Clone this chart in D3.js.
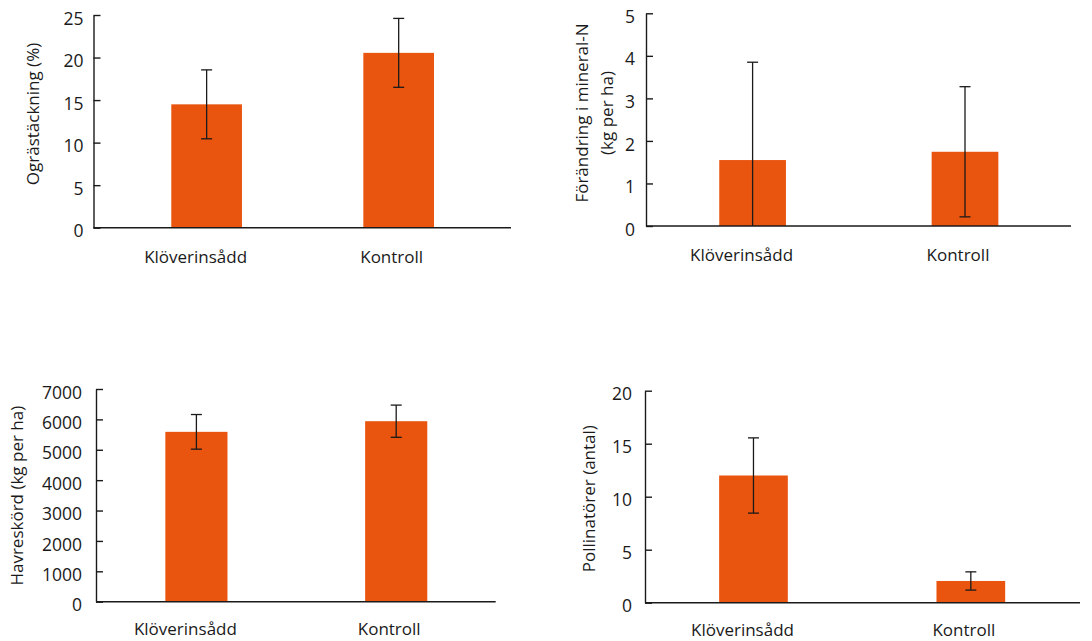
<!DOCTYPE html>
<html>
<head>
<meta charset="utf-8">
<script src="https://cdn.jsdelivr.net/npm/d3@7"></script>
<style>
  html, body { margin: 0; padding: 0; background: #fff; }
  svg { display: block; font-family: "Open Sans", "Noto Sans", sans-serif; }
</style>
</head>
<body>
<svg id="chart" width="1092" height="641"></svg>
<script>
// Treatments shared by all four panels
const categories = ["Klöverinsådd", "Kontroll"];

// Weed cover (%)
const weedMean = [14.5, 20.55];
const weedErr = [4.05, 4.05];
const weedTicks = [0, 5, 10, 15, 20, 25];

// Change in mineral N (kg per ha)
const nitrogenMean = [1.55, 1.745];
const nitrogenErr = [2.3, 1.53];
const nitrogenTicks = [0, 1, 2, 3, 4, 5];

// Oat yield (kg per ha)
const oatMean = [5590, 5940];
const oatErr = [570, 530];
const oatTicks = [0, 1000, 2000, 3000, 4000, 5000, 6000, 7000];

// Pollinators (count)
const pollMean = [12.0, 2.05];
const pollErr = [3.55, 0.86];
const pollTicks = [0, 5, 10, 15, 20];

const BAR = "#e9540f";
const INK = "#1a1a1a";

const svg = d3.select("#chart");

const panels = [
  { mean: weedMean, err: weedErr, ticks: weedTicks, max: 25,
    axisX: 93.5, axisEnd: 511, top: 15, bottom: 227.7,
    band: [110.6, 494.7], pad: 0.632, tickPad: 10, labelGap: 35,
    title: ["Ogrästäckning (%)"], titleX: [33], titleY: 114 },
  { mean: nitrogenMean, err: nitrogenErr, ticks: nitrogenTicks, max: 5,
    axisX: 646, axisEnd: 1071, top: 13.3, bottom: 226,
    band: [646.4, 1071.2], pad: 0.686, tickPad: 11, labelGap: 35,
    title: ["Förändring i mineral-N", "(kg per ha)"], titleX: [581.7, 606.7], titleY: 113 },
  { mean: oatMean, err: oatErr, ticks: oatTicks, max: 7000,
    axisX: 96, axisEnd: 495.7, top: 389, bottom: 601.7,
    band: [96.5, 496.1], pad: 0.689, tickPad: 14, labelGap: 33.5,
    title: ["Havreskörd (kg per ha)"], titleX: [16.7], titleY: 495.7 },
  { mean: pollMean, err: pollErr, ticks: pollTicks, max: 20,
    axisX: 645, axisEnd: 1080, top: 390.7, bottom: 602.7,
    band: [644.8, 1079.5], pad: 0.684, tickPad: 13, labelGap: 33.5,
    title: ["Pollinatörer (antal)"], titleX: [589.3], titleY: 498.7 }
];

// Category labels sit slightly left of their bar centres
const labelShift = [-11, -7];

panels.forEach(p => {
  const g = svg.append("g");

  const x = d3.scaleBand()
    .domain(categories)
    .range(p.band)
    .paddingInner(p.pad)
    .paddingOuter(p.pad / 2);

  const y = d3.scaleLinear()
    .domain([0, p.max])
    .range([p.bottom, p.top])
    .clamp(true);

  const rows = categories.map((c, i) => ({ cat: c, i, mean: p.mean[i], err: p.err[i] }));

  // bars
  g.selectAll("rect.bar").data(rows).join("rect")
    .attr("class", "bar")
    .attr("x", d => x(d.cat))
    .attr("width", x.bandwidth())
    .attr("y", d => y(d.mean))
    .attr("height", d => y(0) - y(d.mean))
    .attr("fill", BAR);

  // error bars (a whisker that leaves the axis range is cut at the axis, without cap)
  const cap = 5.5;
  const eb = g.selectAll("g.err").data(rows).join("g").attr("class", "err")
    .attr("stroke", INK).attr("stroke-width", 1.3);
  const cx = d => x(d.cat) + x.bandwidth() / 2;
  eb.append("line")
    .attr("x1", cx).attr("x2", cx)
    .attr("y1", d => y(d.mean + d.err))
    .attr("y2", d => y(d.mean - d.err));
  eb.append("line")
    .attr("x1", d => cx(d) - cap).attr("x2", d => cx(d) + cap)
    .attr("y1", d => y(d.mean + d.err)).attr("y2", d => y(d.mean + d.err));
  eb.filter(d => d.mean - d.err >= 0).append("line")
    .attr("x1", d => cx(d) - cap).attr("x2", d => cx(d) + cap)
    .attr("y1", d => y(d.mean - d.err)).attr("y2", d => y(d.mean - d.err));

  // y axis with inward ticks
  const yAxis = d3.axisLeft(y)
    .tickValues(p.ticks)
    .tickFormat(d3.format("d"))
    .tickSizeInner(-7)
    .tickSizeOuter(0)
    .tickPadding(p.tickPad);
  const ya = g.append("g")
    .attr("transform", `translate(${p.axisX},0)`)
    .call(yAxis);
  ya.select(".domain").attr("stroke", INK).attr("stroke-width", 1.4);
  ya.selectAll(".tick line").attr("stroke", INK).attr("stroke-width", 1.4);
  ya.selectAll(".tick text")
    .attr("fill", INK)
    .attr("font-size", 17.5)
    .attr("font-family", "\"Open Sans\", sans-serif")
    .attr("dy", "0.52em");

  // x baseline
  g.append("line")
    .attr("x1", p.axisX).attr("x2", p.axisEnd)
    .attr("y1", y(0)).attr("y2", y(0))
    .attr("stroke", INK).attr("stroke-width", 1.5);

  // category labels
  g.selectAll("text.cat").data(rows).join("text")
    .attr("class", "cat")
    .attr("x", d => cx(d) + labelShift[d.i])
    .attr("y", y(0) + p.labelGap)
    .attr("text-anchor", "middle")
    .attr("font-size", 17)
    .attr("fill", INK)
    .text(d => d.cat);

  // y axis title (one or two lines)
  p.title.forEach((t, k) => {
    g.append("text")
      .attr("transform", `translate(${p.titleX[k]},${p.titleY}) rotate(-90)`)
      .attr("text-anchor", "middle")
      .attr("dy", "0.36em")
      .attr("font-size", 17)
      .attr("fill", INK)
      .text(t);
  });
});
</script>
</body>
</html>
